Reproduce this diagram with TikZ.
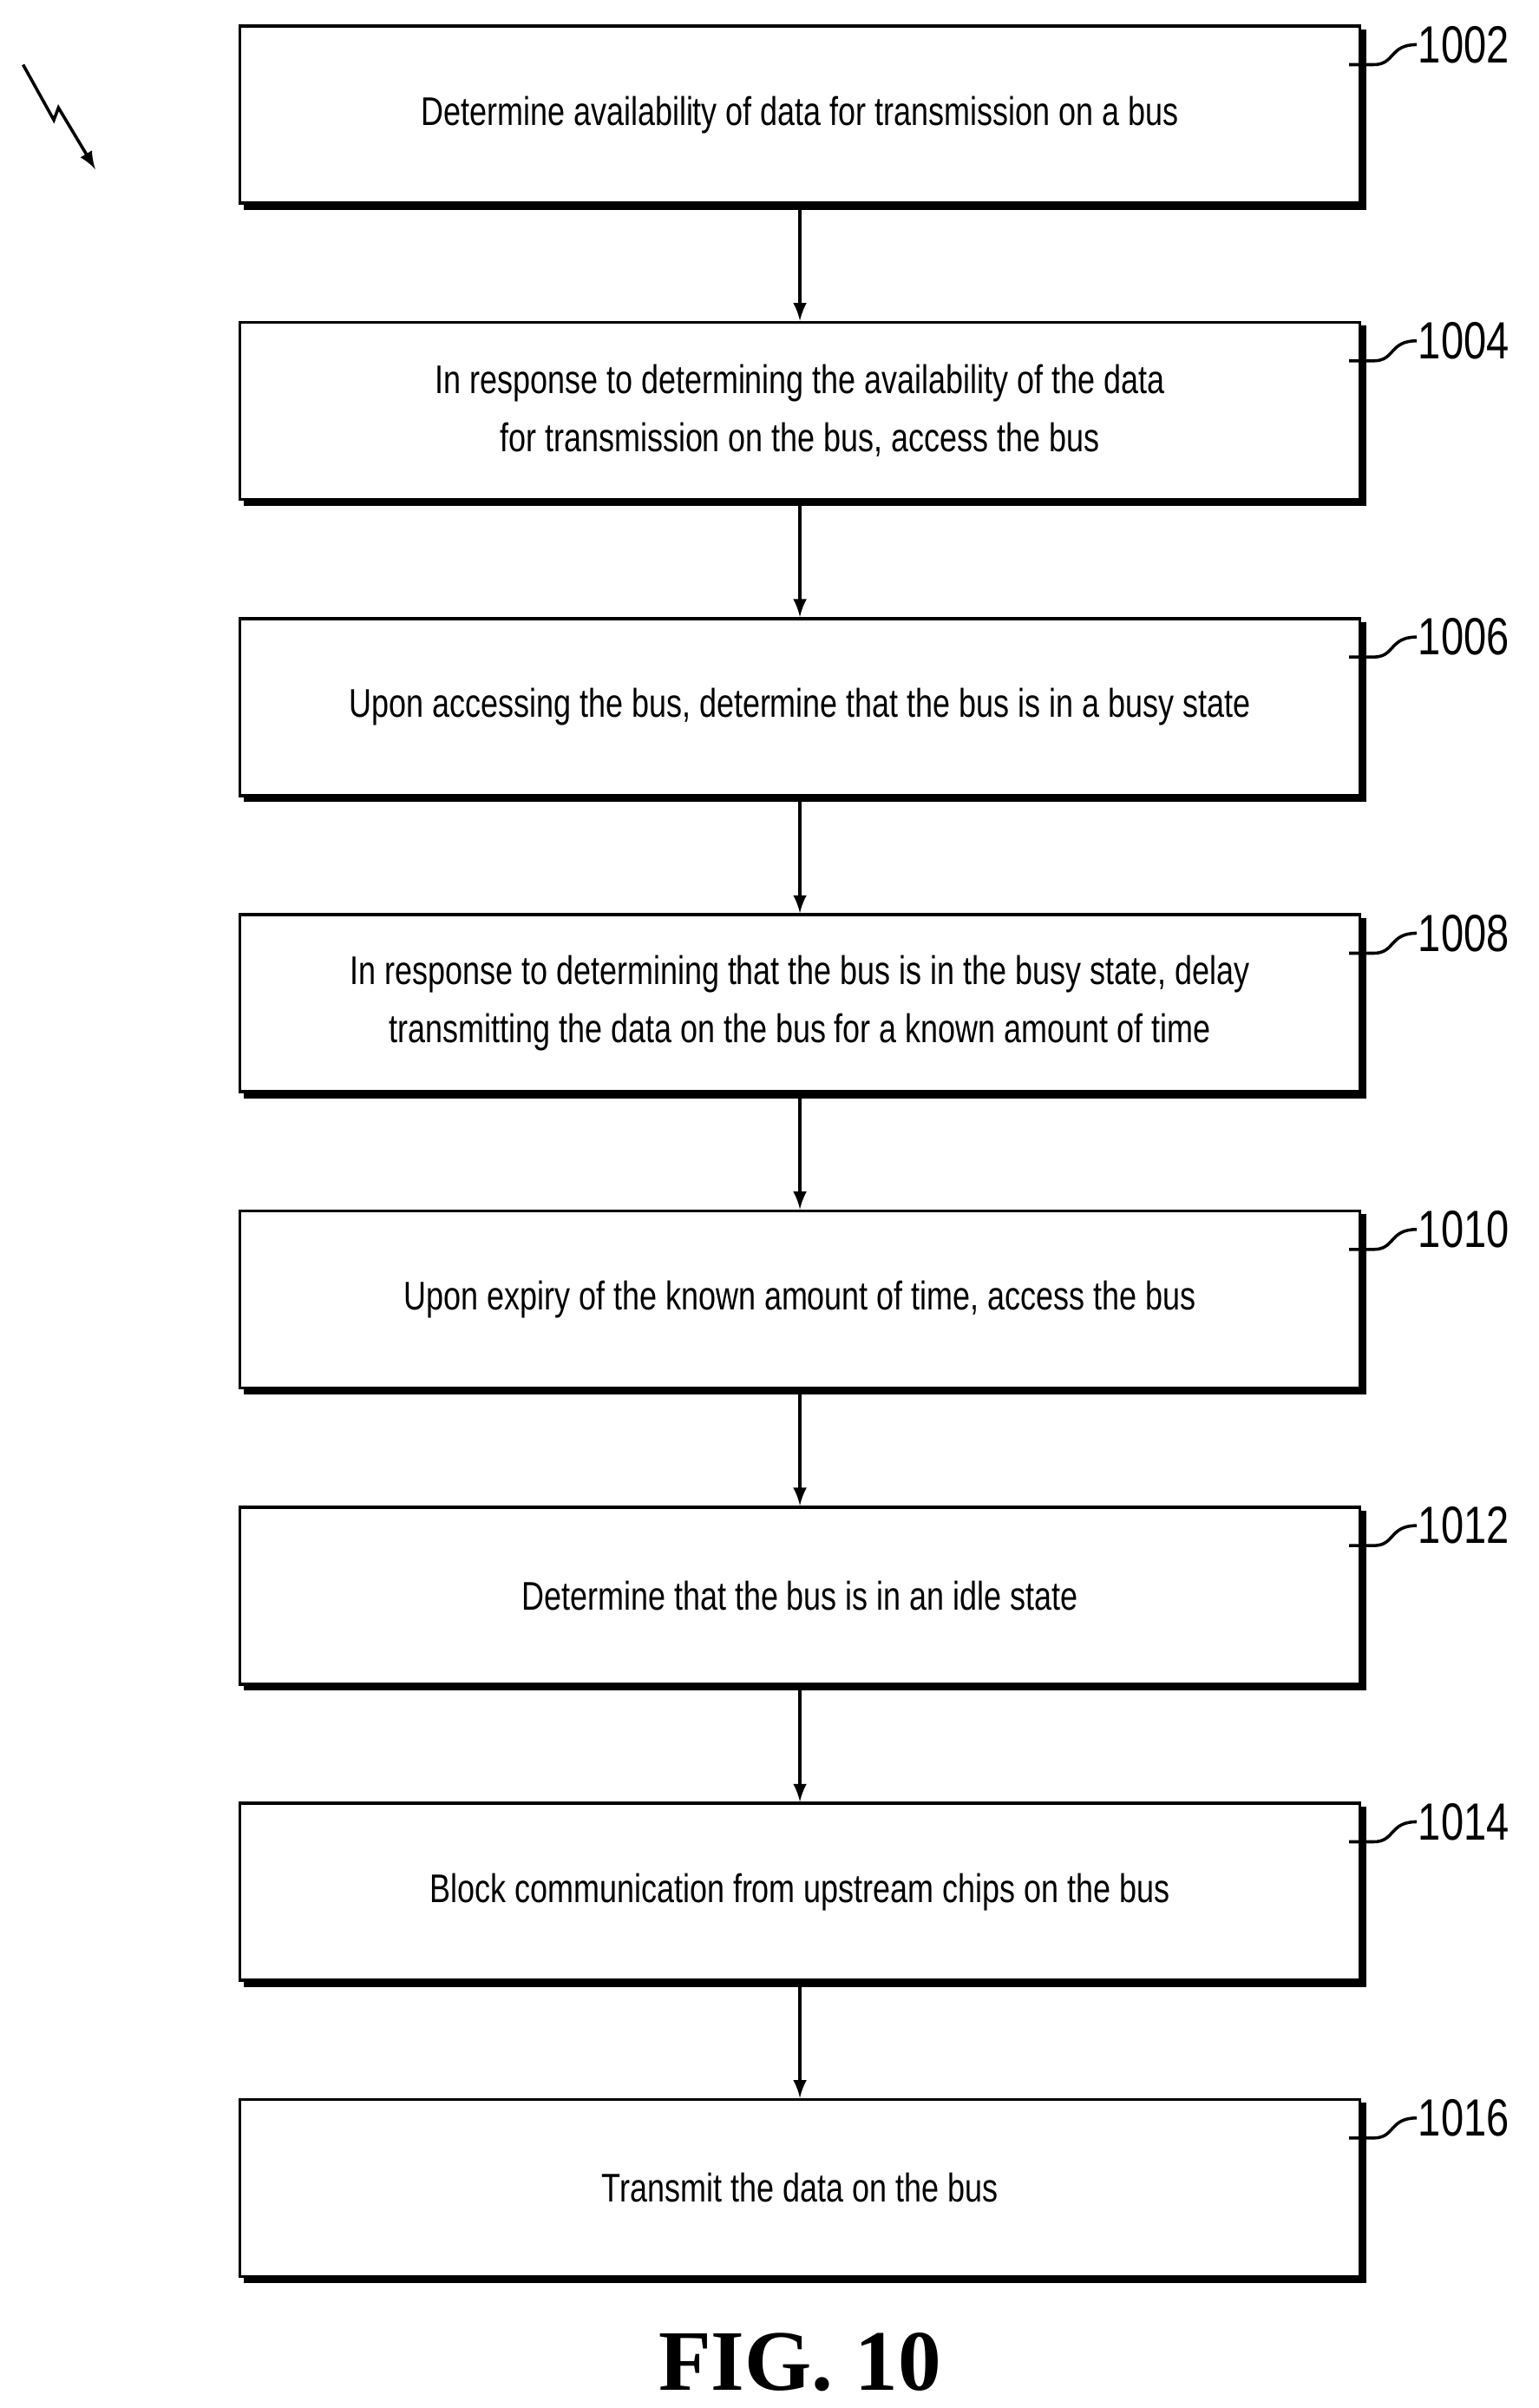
\documentclass[tikz,border=0pt]{standalone}
\usepackage{fontspec}
\setmainfont{Liberation Sans}[FakeStretch=0.78]
\newfontfamily\figfont{Liberation Serif}
\usetikzlibrary{shadows,calc}
\tikzset{every picture/.style={line width=1pt}}
\tikzset{
  flowbox/.style={draw,fill=white,minimum width=364pt,minimum height=57.5pt,align=center,font=\fontsize{13}{19}\selectfont,
    copy shadow={shadow xshift=1.6pt,shadow yshift=-1.6pt,fill=black}},
  ref/.style={anchor=west,inner sep=0pt,font=\fontsize{17}{17}\selectfont}
}
\begin{document}
\begin{tikzpicture}[x=0.5pt,y=-0.5pt]
\useasboundingbox (0,0) rectangle (1000,1565);

\node[flowbox] (s1) at (520,74.5) {Determine availability of data for transmission on a bus};
\node[flowbox] (s2) at (520,267) {In response to determining the availability of the data\\for transmission on the bus, access the bus};
\node[flowbox] (s3) at (520,459.5) {Upon accessing the bus, determine that the bus is in a busy state};
\node[flowbox] (s4) at (520,652) {In response to determining that the bus is in the busy state, delay\\transmitting the data on the bus for a known amount of time};
\node[flowbox] (s5) at (520,844.5) {Upon expiry of the known amount of time, access the bus};
\node[flowbox] (s6) at (520,1037) {Determine that the bus is in an idle state};
\node[flowbox] (s7) at (520,1229.5) {Block communication from upstream chips on the bus};
\node[flowbox] (s8) at (520,1422) {Transmit the data on the bus};

\foreach \a/\b in {s1/s2,s2/s3,s3/s4,s4/s5,s5/s6,s6/s7,s7/s8}
  \draw[-latex] (\a.south) ++(0,3) -- (\b.north);

\foreach \s/\n in {s1/1002,s2/1004,s3/1006,s4/1008,s5/1010,s6/1012,s7/1014,s8/1016}{
  \node[ref] (r\n) at ([shift={(36,13)}]\s.north east) {\n};
  \draw ([shift={(-8,26)}]\s.north east) -- ([shift={(8,26)}]\s.north east)
    .. controls ([shift={(22,26)}]\s.north east) and ([shift={(18,13)}]\s.north east) .. (r\n.west);
}

% figure pointer
\coordinate (z0) at (15,42);
\coordinate (z1) at (35,78);
\coordinate (z2) at (38,70);
\coordinate (z3) at (62,110);
\draw[-latex] (z0) -- (z1) -- (z2) -- (z3);

\node[font=\figfont\bfseries\fontsize{28}{28}\selectfont] (fig) at (520,1535) {FIG. 10};
\end{tikzpicture}
\end{document}
